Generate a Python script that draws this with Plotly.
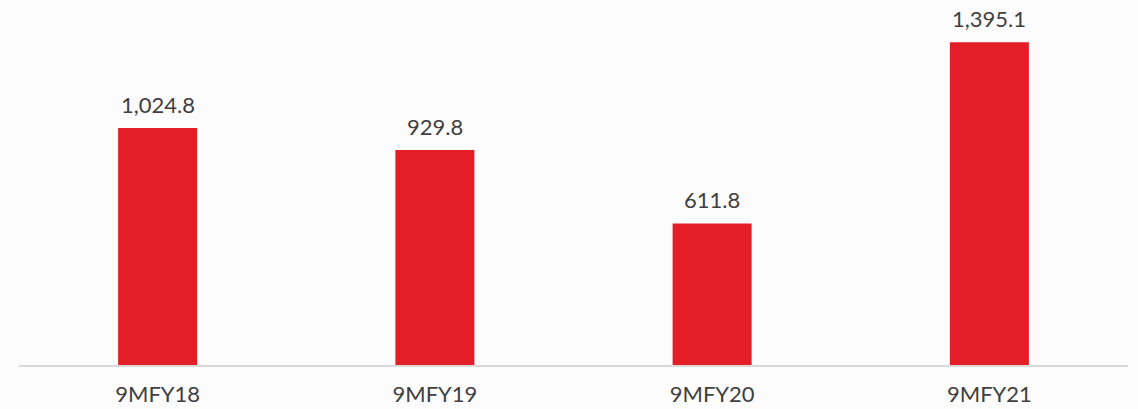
import plotly.graph_objects as go

categories = ["9MFY18", "9MFY19", "9MFY20", "9MFY21"]
values = [1024.8, 929.8, 611.8, 1395.1]
value_labels = ["1,024.8", "929.8", "611.8", "1,395.1"]

bar_color = "#E41E26"
text_color = "#404040"
font_family = "Lato, 'Open Sans', sans-serif"

fig = go.Figure()
fig.add_trace(go.Bar(
    x=categories,
    y=values,
    marker=dict(color=bar_color, line=dict(width=0)),
    hoverinfo="skip",
))

for c, v, t in zip(categories, values, value_labels):
    fig.add_annotation(
        x=c, y=v, text=t, showarrow=False,
        yanchor="bottom", yshift=8,
        font=dict(family=font_family, size=22, color=text_color),
    )

fig.update_layout(
    width=1138, height=409,
    margin=dict(l=19, r=10, t=10, b=44, autoexpand=False),
    paper_bgcolor="#FCFCFC",
    plot_bgcolor="#FCFCFC",
    bargap=0.715,
    showlegend=False,
    xaxis=dict(
        showline=True, linecolor="#D9D9D9", linewidth=1.5,
        showgrid=False, ticks="",
        ticklabelstandoff=9,
        tickfont=dict(family=font_family, size=22, color=text_color),
        fixedrange=True,
    ),
    yaxis=dict(
        range=[0, (365 - 10) / 0.2313],
        visible=False, showgrid=False, zeroline=False,
        fixedrange=True,
    ),
)

fig.write_html(
    "out.html",
    config={"displayModeBar": False},
    post_script="document.body.style.margin='0';document.body.style.background='#FCFCFC';",
)
